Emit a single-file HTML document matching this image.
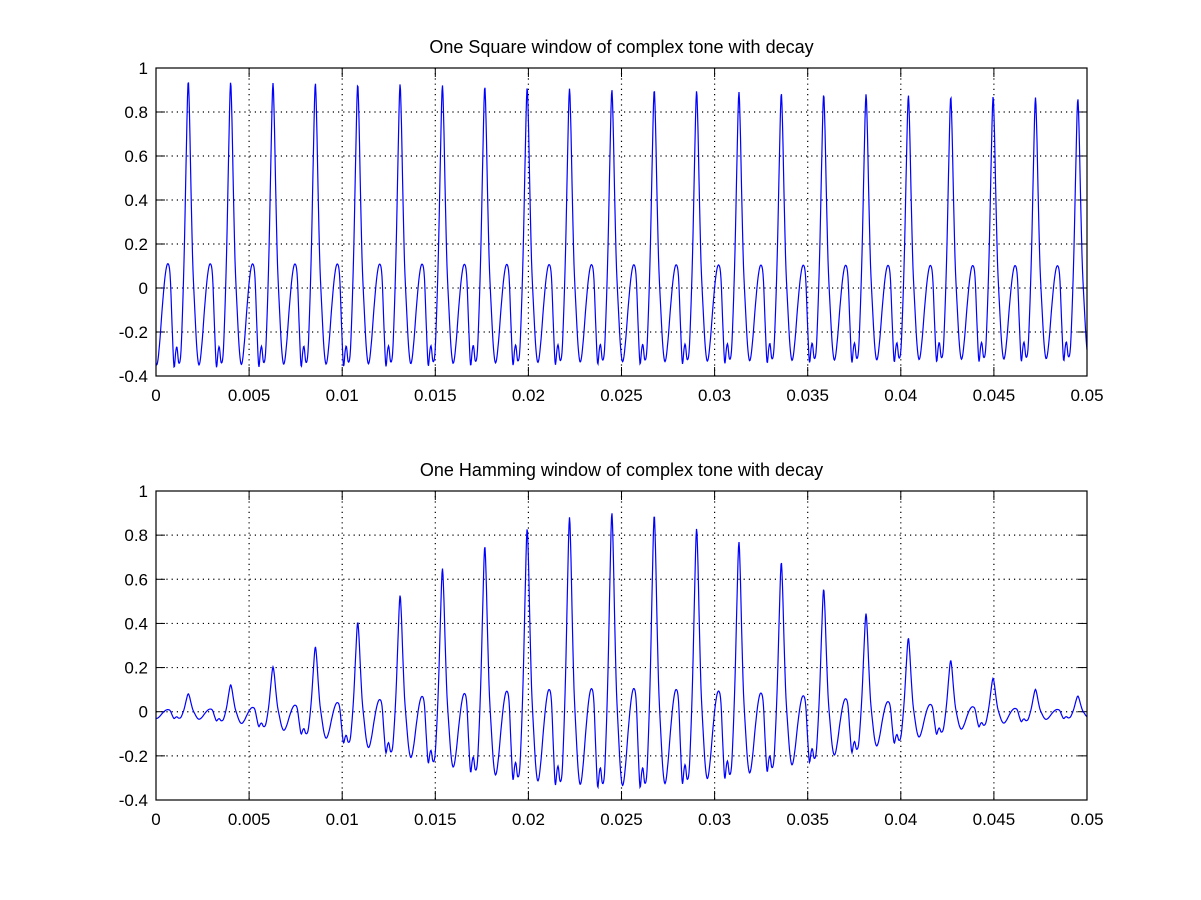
<!DOCTYPE html>
<html><head><meta charset="utf-8"><style>
body{margin:0;background:#fff;}
svg{display:block;font-family:"Liberation Sans",Arial,sans-serif;}
</style></head><body>
<svg id="fig" width="1201" height="900" viewBox="0 0 1201 900" xmlns="http://www.w3.org/2000/svg">
<rect width="1201" height="900" fill="#fff"/>
</svg>
<script>
// ---- data ----
const xTicks = [0,0.005,0.01,0.015,0.02,0.025,0.03,0.035,0.04,0.045,0.05];
const xTickLabels = ["0","0.005","0.01","0.015","0.02","0.025","0.03","0.035","0.04","0.045","0.05"];
const yTicks = [-0.4,-0.2,0,0.2,0.4,0.6,0.8,1];
const yTickLabels = ["-0.4","-0.2","0","0.2","0.4","0.6","0.8","1"];
const firstPeakTime = 0.00172;
const periodSec = 0.002275;
// one period of waveform shape (peak at phase 0 and 1)
const shapePhase = [0,.03,.07,.11,.16,.21,.26,.32,.40,.47,.53,.58,.63,.67,.71,.74,.78,.83,.875,.915,.955,1];
const shapeValue = [.93,.82,.45,.12,-.1,-.28,-.35,-.27,-.07,.07,.11,.05,-.2,-.36,-.29,-.27,-.34,-.3,-.08,.2,.58,.93];
const squarePeaks = [0.93,0.925,0.92,0.92,0.915,0.915,0.91,0.905,0.9,0.895,0.89,0.89,0.885,0.88,0.875,0.87,0.87,0.865,0.86,0.86,0.855,0.85];
const hammingPeaks = [0.08,0.12,0.2,0.29,0.4,0.52,0.64,0.74,0.82,0.87,0.89,0.88,0.82,0.76,0.67,0.55,0.44,0.33,0.23,0.15,0.1,0.07];

const NS="http://www.w3.org/2000/svg";
const svg=document.getElementById('fig');
function mk(tag,attrs,parent){const e=document.createElementNS(NS,tag);for(const k in attrs)e.setAttribute(k,attrs[k]);(parent||svg).appendChild(e);return e;}

function shapeAt(ph){
  ph=((ph%1)+1)%1;
  let i=0;while(i<shapePhase.length-2&&ph>shapePhase[i+1])i++;
  const n=shapePhase.length;
  const p0=shapeValue[i>0?i-1:n-2],p1=shapeValue[i],p2=shapeValue[i+1],p3=shapeValue[i+2<n?i+2:1];
  const t=(ph-shapePhase[i])/(shapePhase[i+1]-shapePhase[i]);
  return 0.5*((2*p1)+(-p0+p2)*t+(2*p0-5*p1+4*p2-p3)*t*t+(-p0+3*p1-3*p2+p3)*t*t*t);
}
function ampAt(peaks,c){
  if(c<=0)return peaks[0];if(c>=peaks.length-1)return peaks[peaks.length-1];
  const i=Math.floor(c),f=c-i;return peaks[i]*(1-f)+peaks[i+1]*f;
}

function drawAxes(name,title,top,bottom,peaks){
  const L=156,R=1087;
  const xs=t=>L+(t-0)/(0.05)*(R-L);
  const ys=v=>top+(1-v)/1.4*(bottom-top);
  const g=mk('g',{});
  
  
  xTicks.forEach((t,i)=>{
    if(i>0&&i<xTicks.length-1){const l=mk('line',{x1:xs(t),x2:xs(t),y1:top,y2:bottom,stroke:'#000','stroke-width':1.2,'stroke-dasharray':'1.2,4'},g);
    }
    mk('line',{x1:xs(t),x2:xs(t),y1:bottom,y2:bottom-9,stroke:'#000'},g);
    mk('line',{x1:xs(t),x2:xs(t),y1:top,y2:top+9,stroke:'#000'},g);
    const tx=mk('text',{x:xs(t),y:bottom+25,'font-size':17,'text-anchor':'middle'},g);tx.textContent=xTickLabels[i];
    
  });
  yTicks.forEach((v,i)=>{
    if(i>0&&i<yTicks.length-1){const l=mk('line',{x1:L,x2:R,y1:ys(v),y2:ys(v),stroke:'#000','stroke-width':1.2,'stroke-dasharray':'1.2,4'},g);
    }
    mk('line',{x1:L,x2:L+9,y1:ys(v),y2:ys(v),stroke:'#000'},g);
    mk('line',{x1:R,x2:R-9,y1:ys(v),y2:ys(v),stroke:'#000'},g);
    const tx=mk('text',{x:L-8,y:ys(v)+6,'font-size':17,'text-anchor':'end'},g);tx.textContent=yTickLabels[i];
    
  });
  let d='';
  for(let px=L;px<=R;px+=0.5){
    const t=(px-L)/(R-L)*0.05;
    const c=(t-firstPeakTime)/periodSec;
    const v=shapeAt(c)*ampAt(peaks,c)/0.93;
    d+=(px===L?'M':'L')+px.toFixed(1)+','+ys(v).toFixed(2);
  }
  const p=mk('path',{d:d,fill:'none',stroke:'#0000ff','stroke-width':1.2},g);
  
  const box=mk('rect',{x:L,y:top,width:R-L,height:bottom-top,fill:'none',stroke:'#000','stroke-width':1.2},g);
  
  const tt=mk('text',{x:(L+R)/2,y:top-15,'font-size':18,'text-anchor':'middle'},g);tt.textContent=title;
  
}
drawAxes('square-window-plot','One Square window of complex tone with decay',68,376,squarePeaks);
drawAxes('hamming-window-plot','One Hamming window of complex tone with decay',491,800,hammingPeaks);
</script>
</body></html>
